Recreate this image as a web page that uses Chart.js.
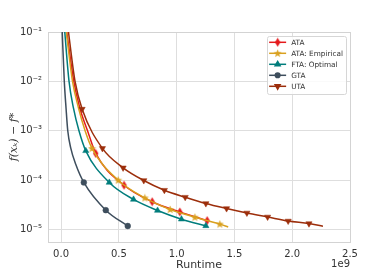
<!DOCTYPE html>
<html>
<head>
<meta charset="utf-8">
<script src="https://cdn.jsdelivr.net/npm/chart.js@4.4.1/dist/chart.umd.min.js"></script>
<style>
html, body { margin: 0; padding: 0; background: #fff; }
</style>
</head>
<body>
<canvas id="grafico" width="389" height="272"></canvas>
<script>
// runtime in units of 1e9, gap = f(x_k) - f*
const ataRuntime = [0.049, 0.110, 0.162, 0.229, 0.300, 0.545, 0.788, 1.028, 1.264];
const ataGap     = [1e-1, 1e-2, 2.9e-3, 1e-3, 3.48e-4, 7.9e-5, 3.66e-5, 2.28e-5, 1.52e-5];
const ataMarks   = [4, 5, 6, 7, 8];

const empRuntime = [0.045, 0.099, 0.151, 0.208, 0.268, 0.494, 0.725, 0.944, 1.158, 1.374, 1.446];
const empGap     = [1e-1, 1e-2, 2.9e-3, 1e-3, 4.4e-4, 1e-4, 4.38e-5, 2.55e-5, 1.78e-5, 1.29e-5, 1.13e-5];
const empMarks   = [4, 5, 6, 7, 8, 9];

const ftaRuntime = [0.032, 0.069, 0.107, 0.155, 0.214, 0.417, 0.627, 0.835, 1.042, 1.253];
const ftaGap     = [1e-1, 1e-2, 2.9e-3, 1e-3, 3.93e-4, 8.98e-5, 4.07e-5, 2.43e-5, 1.62e-5, 1.19e-5];
const ftaMarks   = [4, 5, 6, 7, 8, 9];

const gtaRuntime = [0.010, 0.028, 0.043, 0.058, 0.084, 0.127, 0.197, 0.387, 0.577];
const gtaGap     = [1e-1, 1e-2, 2.9e-3, 1e-3, 4.46e-4, 2.1e-4, 9e-5, 2.47e-5, 1.18e-5];
const gtaMarks   = [6, 7, 8];

const utaRuntime = [0.064, 0.121, 0.182, 0.358, 0.537, 0.716, 0.894, 1.074, 1.253, 1.432, 1.608, 1.787, 1.965, 2.145, 2.266];
const utaGap     = [1e-1, 1e-2, 2.75e-3, 4.4e-4, 1.78e-4, 9.86e-5, 6.26e-5, 4.52e-5, 3.37e-5, 2.67e-5, 2.17e-5, 1.8e-5, 1.49e-5, 1.32e-5, 1.17e-5];
const utaMarks   = [2, 3, 4, 5, 6, 7, 8, 9, 10, 11, 12, 13];

const xTicks = [0, 0.5, 1.0, 1.5, 2.0, 2.5];
const yTicks = [1e-5, 1e-4, 1e-3, 1e-2, 1e-1];

const textColor = '#333333';

// little canvases for the markers chart.js has no shape for
function thinDiamond(color) {
    const c = document.createElement('canvas');
    c.width = 7; c.height = 10;
    const g = c.getContext('2d');
    g.fillStyle = color;
    g.beginPath();
    g.moveTo(3.5, 0.5);
    g.lineTo(6.2, 5);
    g.lineTo(3.5, 9.5);
    g.lineTo(0.8, 5);
    g.closePath();
    g.fill();
    return c;
}

function star(color) {
    const c = document.createElement('canvas');
    c.width = 9; c.height = 9;
    const g = c.getContext('2d');
    g.fillStyle = color;
    g.beginPath();
    for (let i = 0; i < 10; i++) {
        const r = i % 2 === 0 ? 4.2 : 1.8;
        const a = -Math.PI / 2 + i * Math.PI / 5;
        const px = 4.5 + r * Math.cos(a);
        const py = 4.8 + r * Math.sin(a);
        if (i === 0) g.moveTo(px, py); else g.lineTo(px, py);
    }
    g.closePath();
    g.fill();
    return c;
}

function serie(label, xs, ys, marks, color, style, rotation, radius, order) {
    return {
        label: label,
        data: xs.map((x, i) => ({ x: x, y: ys[i] })),
        borderColor: color,
        backgroundColor: color,
        borderWidth: 1.5,
        pointStyle: style,
        pointRotation: rotation,
        pointRadius: ctx => marks.includes(ctx.dataIndex) ? radius : 0,
        pointBorderWidth: 0.5,
        pointBorderColor: color,
        pointBackgroundColor: color,
        cubicInterpolationMode: 'monotone',
        order: order,
        markerRadius: radius
    };
}

const datasets = [
    serie('ATA', ataRuntime, ataGap, ataMarks, '#e41a1c', thinDiamond('#e41a1c'), 0, 3.5, 4),
    serie('ATA: Empirical', empRuntime, empGap, empMarks, '#d9a01e', star('#d9a01e'), 0, 3.5, 3),
    serie('FTA: Optimal', ftaRuntime, ftaGap, ftaMarks, '#007d7c', 'triangle', 0, 3.6, 2),
    serie('GTA', gtaRuntime, gtaGap, gtaMarks, '#3e4e5d', 'circle', 0, 2.9, 1),
    serie('UTA', utaRuntime, utaGap, utaMarks, '#9c2e0b', 'triangle', 180, 3.6, 0)
];

const sup = { '-': '\u207B', '0': '\u2070', '1': '\u00B9', '2': '\u00B2', '3': '\u00B3', '4': '\u2074', '5': '\u2075', '6': '\u2076', '7': '\u2077', '8': '\u2078', '9': '\u2079' };
function pow10Label(v) {
    const e = String(Math.round(Math.log10(v)));
    return '10' + e.split('').map(ch => sup[ch]).join('');
}

// frame round the plot, legend box, offset text
const moldura = {
    id: 'moldura',
    beforeDatasetsDraw(chart) {
        const a = chart.chartArea;
        const ctx = chart.ctx;
        ctx.save();
        ctx.strokeStyle = '#d3d3d3';
        ctx.lineWidth = 1;
        ctx.strokeRect(Math.round(a.left) + 0.5, Math.round(a.top) + 0.5,
            Math.round(a.right) - Math.round(a.left), Math.round(a.bottom) - Math.round(a.top));
        ctx.restore();
    },
    afterDraw(chart) {
        const a = chart.chartArea;
        const ctx = chart.ctx;
        ctx.save();
        ctx.font = '7.3px "DejaVu Sans"';
        let maxW = 0;
        datasets.forEach(d => { maxW = Math.max(maxW, ctx.measureText(d.label).width); });
        const rowH = 11;
        const w = maxW + 27;
        const h = rowH * datasets.length + 3;
        const x0 = a.right - 4 - w;
        const y0 = a.top + 4;
        ctx.fillStyle = 'rgba(255,255,255,0.85)';
        ctx.strokeStyle = '#d6d6d6';
        ctx.lineWidth = 1;
        ctx.beginPath();
        ctx.roundRect(Math.round(x0) + 0.5, Math.round(y0) + 0.5, Math.round(w), Math.round(h), 2);
        ctx.fill();
        ctx.stroke();
        datasets.forEach((d, i) => {
            const y = y0 + 6.3 + i * rowH;
            ctx.strokeStyle = d.borderColor;
            ctx.lineWidth = 1.5;
            ctx.beginPath();
            ctx.moveTo(x0 + 2, y);
            ctx.lineTo(x0 + 19, y);
            ctx.stroke();
            ctx.fillStyle = d.borderColor;
            Chart.helpers.drawPoint(ctx, {
                pointStyle: d.pointStyle,
                rotation: d.pointRotation,
                radius: d.markerRadius * 0.8,
                borderWidth: 0.5
            }, x0 + 10.5, y);
            ctx.fillStyle = textColor;
            ctx.textAlign = 'left';
            ctx.textBaseline = 'middle';
            ctx.fillText(d.label, x0 + 24, y + 0.5);
        });
        ctx.font = '10px "DejaVu Sans"';
        ctx.fillStyle = textColor;
        ctx.textAlign = 'right';
        ctx.textBaseline = 'middle';
        ctx.fillText('1e9', a.right, a.bottom + 22.5);
        ctx.restore();
    }
};

const ctx = document.getElementById('grafico');

new Chart(ctx, {
    type: 'line',
    data: { datasets: datasets },
    plugins: [moldura],
    options: {
        responsive: false,
        animation: false,
        devicePixelRatio: 1,
        layout: { padding: { left: 0, top: 32, right: 39, bottom: 0 } },
        plugins: {
            legend: { display: false },
            tooltip: { enabled: false }
        },
        scales: {
            x: {
                type: 'linear',
                min: -0.113,
                max: 2.5,
                afterBuildTicks: axis => { axis.ticks = xTicks.map(v => ({ value: v })); },
                afterFit: axis => { axis.height = 30; },
                ticks: {
                    callback: v => v.toFixed(1),
                    color: textColor,
                    font: { family: 'DejaVu Sans', size: 10 },
                    padding: 6,
                    maxRotation: 0,
                    autoSkip: false
                },
                grid: { color: '#dedede', lineWidth: 1, drawTicks: false },
                border: { display: false },
                title: {
                    display: true,
                    text: 'Runtime',
                    color: textColor,
                    font: { family: 'DejaVu Sans', size: 11 },
                    padding: { top: 0, bottom: 0 }
                }
            },
            y: {
                type: 'logarithmic',
                min: 5.6e-6,
                max: 0.1,
                afterBuildTicks: axis => { axis.ticks = yTicks.map(v => ({ value: v })); },
                afterFit: axis => { axis.width = 48; },
                ticks: {
                    callback: v => pow10Label(v),
                    color: textColor,
                    font: { family: 'DejaVu Sans', size: 10 },
                    padding: 6,
                    autoSkip: false
                },
                grid: { color: '#dedede', lineWidth: 1, drawTicks: false },
                border: { display: false },
                title: {
                    display: true,
                    text: 'f(x\u2096) \u2212 f*',
                    color: textColor,
                    font: { family: 'DejaVu Serif', size: 11, style: 'italic' },
                    padding: { top: 8, bottom: 0 }
                }
            }
        }
    }
});
</script>
</body>
</html>
